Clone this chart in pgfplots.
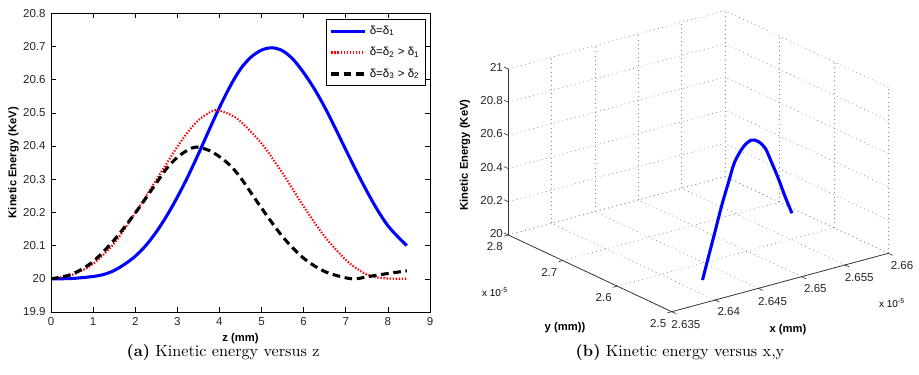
\documentclass[border=0pt]{standalone}
\usepackage{fontspec}
\usepackage{pgfplots}
\pgfplotsset{compat=1.18}
\newfontfamily\arial{Liberation Sans}

\pgfplotstableread{
z ke
0 20.0
0.5 20.001
1 20.007
1.25 20.013
1.5 20.025
1.75 20.044
2 20.068
2.25 20.1
2.5 20.141
2.75 20.19
3 20.246
3.25 20.308
3.5 20.376
3.75 20.447
4 20.516
4.25 20.579
4.5 20.632
4.75 20.668
5 20.689
5.25 20.696
5.5 20.687
5.75 20.661
6 20.621
6.25 20.573
6.5 20.517
6.75 20.454
7 20.389
7.25 20.325
7.5 20.264
7.75 20.208
8 20.16
8.25 20.125
8.45 20.1
}\blueA

\pgfplotstableread{
z ke
0 20.0
0.5 20.012
1 20.045
1.5 20.107
2 20.198
2.5 20.298
2.75 20.348
3 20.398
3.25 20.442
3.5 20.478
3.75 20.5
3.9 20.508
4 20.507
4.25 20.495
4.5 20.474
5 20.408
5.5 20.318
6 20.218
6.5 20.127
7 20.057
7.25 20.032
7.5 20.013
7.75 20.004
8 20.001
8.45 20.0
}\redA

\pgfplotstableread{
z ke
0 20.0
0.5 20.014
1 20.052
1.5 20.117
2 20.198
2.5 20.288
2.75 20.333
3 20.366
3.25 20.388
3.45 20.397
3.75 20.387
4 20.368
4.25 20.342
4.5 20.305
5 20.213
5.5 20.127
6 20.062
6.5 20.022
7 20.003
7.25 20.0
7.5 20.006
8 20.016
8.45 20.024
}\blackA

\pgfplotstableread{
x y ke
2.6422 2.5580 20.0
2.6431 2.5621 20.111
2.6442 2.5669 20.249
2.6453 2.5718 20.387
2.6464 2.5767 20.505
2.6474 2.5815 20.603
2.6488 2.5875 20.666
2.6501 2.5937 20.677
2.6512 2.5985 20.645
2.6523 2.6034 20.582
2.6533 2.6082 20.479
2.6544 2.6130 20.357
2.6555 2.6179 20.223
2.6566 2.6228 20.10
}\blueB

\begin{document}
\begin{tikzpicture}
\begin{axis}[
  at={(33.15pt,-202.8pt)}, anchor=south west,
  scale only axis, width=246.35pt, height=194.2pt,
  xmin=0, xmax=9, ymin=19.9, ymax=20.8,
  xtick={0,1,2,3,4,5,6,7,8,9},
  ytick={19.9,20,20.1,20.2,20.3,20.4,20.5,20.6,20.7,20.8},
  yticklabels={19.9,20,20.1,20.2,20.3,20.4,20.5,20.6,20.7,20.8},
  /pgf/number format/assume math mode=true,
  tick label style={font=\arial\fontsize{7.5}{9}\selectfont, text=black!85},
  major tick length=3pt,
  axis line style={black, line width=0.5pt},
  tick style={black, line width=0.4pt},
  xlabel={z (mm)}, ylabel={Kinetic Energy (KeV)},
  label style={font=\arial\bfseries\fontsize{7.3}{9}\selectfont},
  xlabel style={yshift=2pt},
  ylabel style={yshift=-4pt},
  legend style={at={(1,1)}, anchor=north east, xshift=-2.6pt, yshift=-3.9pt,
    font=\arial\fontsize{7.5}{9}\selectfont, draw=black, line width=0.5pt,
    inner sep=2pt, row sep=3pt},
  legend cell align=left,
  legend image code/.code={\draw[#1] (0pt,0pt) -- (22pt,0pt);},
]
\addplot[blue, line width=2pt, smooth, tension=0.5] table[x=z,y=ke] {\blueA};
\addlegendentry{δ=δ\textsubscript{1}}
\addplot[red, line width=1.4pt, dash pattern=on 0.9pt off 1.1pt, smooth, tension=0.5] table[x=z,y=ke] {\redA};
\addlegendentry{δ=δ\textsubscript{2} > δ\textsubscript{1}}
\addplot[black, line width=2pt, dash pattern=on 5pt off 3pt, smooth, tension=0.5] table[x=z,y=ke] {\blackA};
\addlegendentry{δ=δ\textsubscript{3} > δ\textsubscript{2}}
\end{axis}

\begin{axis}[
  at={(330.4pt,-202.6pt)}, anchor=south west,
  x={(5631.6pt,1518.4pt)}, y={(-354.03pt,166.18pt)}, z={(0pt,107.9pt)},
  xmin=2.635, xmax=2.66, ymin=2.5, ymax=2.8, zmin=20, zmax=21,
  xtick={2.635,2.64,2.645,2.65,2.655,2.66},
  xticklabels={2.635,2.64,2.645,2.65,2.655,2.66},
  ytick={2.5,2.6,2.7,2.8}, yticklabels={2.5,2.6,2.7,2.8},
  ztick={20,20.2,20.4,20.6,20.8,21}, zticklabels={20,20.2,20.4,20.6,20.8,21},
  grid=major, grid style={gray!90, line width=0.4pt, dash pattern=on 0.6pt off 2.2pt},
  axis line style={draw=none},
  tick style={draw=none},
  tick label style={font=\arial\fontsize{7.5}{9}\selectfont, text=black!85},
  xticklabel style={xshift=4pt},
  yticklabel style={xshift=-3pt},
  clip=false,
]
\draw[black!80, line width=0.5pt] (axis cs:2.635,2.5,20) -- (axis cs:2.66,2.5,20);
\draw[black!80, line width=0.5pt] (axis cs:2.635,2.5,20) -- (axis cs:2.635,2.8,20);
\draw[black!80, line width=0.5pt] (axis cs:2.635,2.8,20) -- (axis cs:2.635,2.8,21);
\pgfplotsinvokeforeach{2.635,2.64,2.645,2.65,2.655,2.66}{
  \draw[black!80, line width=0.4pt] (axis cs:#1,2.5,20) -- (axis cs:#1,2.492,20);
}
\pgfplotsinvokeforeach{2.5,2.6,2.7,2.8}{
  \draw[black!80, line width=0.4pt] (axis cs:2.635,#1,20) -- (axis cs:2.6345,#1,20);
}
\pgfplotsinvokeforeach{20,20.2,20.4,20.6,20.8,21}{
  \draw[black!80, line width=0.4pt] (axis cs:2.635,2.8,#1) -- (axis cs:2.635,2.808,#1);
}
\addplot3[blue, line width=2pt, smooth] table[x=x,y=y,z=ke] {\blueB};
\end{axis}

\node[font=\arial\bfseries\fontsize{7.3}{9}\selectfont, rotate=90] at (302.25pt,-100.75pt) {Kinetic Energy (KeV)};
\node[font=\arial\bfseries\fontsize{7.3}{9}\selectfont] at (367.25pt,-213.2pt) {y (mm))};
\node[font=\arial\bfseries\fontsize{7.3}{9}\selectfont] at (512.2pt,-214.5pt) {x (mm)};
\node[font=\arial\fontsize{6.5}{8}\selectfont] at (321.75pt,-189.8pt) {x 10\textsuperscript{-5}};
\node[font=\arial\fontsize{6.5}{8}\selectfont] at (579.8pt,-196.95pt) {x 10\textsuperscript{-5}};

\node[font=\fontsize{10.5}{12}\selectfont] at (144.95pt,-228.8pt) {\textbf{(a)} Kinetic energy versus z};
\node[font=\fontsize{10.5}{12}\selectfont] at (442pt,-228.8pt) {\textbf{(b)} Kinetic energy versus x,y};

\pgfresetboundingbox
\path (0pt,0pt) rectangle (597.35pt,-243.75pt);
\end{tikzpicture}
\end{document}
